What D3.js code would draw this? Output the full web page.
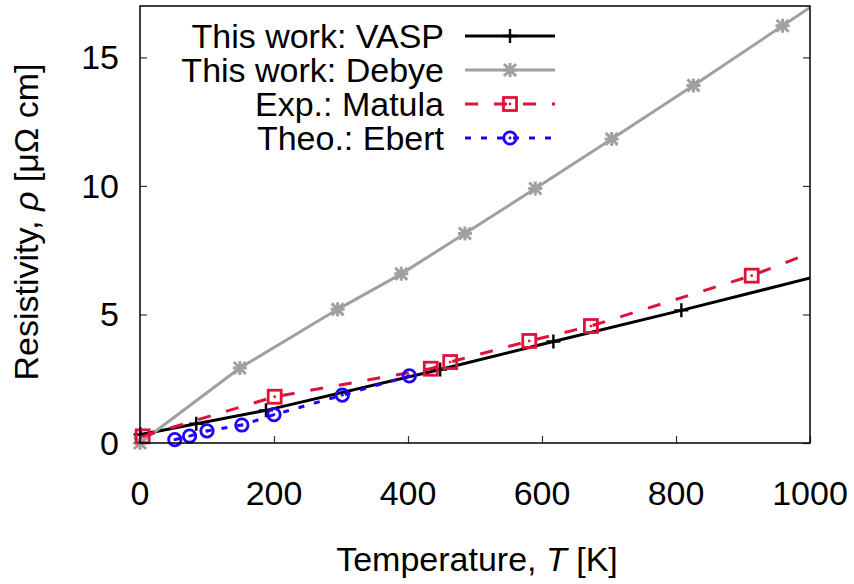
<!DOCTYPE html>
<html>
<head>
<meta charset="utf-8">
<script src="https://cdn.jsdelivr.net/npm/d3@7"></script>
<style>
  body { margin: 0; background: #fff; }
  svg { display: block; }
</style>
</head>
<body>
<div id="chart"></div>
<script>
// Values
const xTicks = [0, 200, 400, 600, 800, 1000];
const yTicks = [0, 5, 10, 15];

// This work: VASP (last point lies past the x range and is clipped)
const vaspT   = [1, 84, 188, 448, 617, 808, 1005];
const vaspRho = [0.33, 0.75, 1.27, 2.86, 3.95, 5.16, 6.45];
// This work: Debye
const debyeT   = [0, 149, 295, 390, 485, 590, 704, 826, 959, 1090];
const debyeRho = [0, 2.92, 5.20, 6.58, 8.15, 9.90, 11.83, 13.91, 16.23, 18.5];
// Exp.: Matula
const matulaT   = [4, 201, 434, 463, 581, 673, 913, 1100];
const matulaRho = [0.26, 1.80, 2.89, 3.15, 3.97, 4.55, 6.51, 8.40];
// Theo.: Ebert
const ebertT   = [52, 74, 100, 152, 200, 302, 402];
const ebertRho = [0.13, 0.27, 0.47, 0.70, 1.10, 1.86, 2.61];

const W = 854, H = 584;
const FONT = '"Liberation Sans", Arial, Helvetica, sans-serif';
const FS = 34;

const M = { left: 140, right: 810, top: 6, bottom: 443 };

const x = d3.scaleLinear().domain([0, 1000]).range([M.left, M.right]);
const y = d3.scaleLinear().domain([0, 17]).range([M.bottom, M.top]);

const svg = d3.select('#chart').append('svg')
  .attr('width', W).attr('height', H)
  .attr('viewBox', `0 0 ${W} ${H}`);

svg.append('rect').attr('width', W).attr('height', H).attr('fill', '#fff');

svg.append('clipPath').attr('id', 'plot-clip')
  .append('rect')
  .attr('x', M.left).attr('y', M.top)
  .attr('width', M.right - M.left).attr('height', M.bottom - M.top);

function stext(g, px, py, anchor) {
  return g.append('text')
    .attr('x', px).attr('y', py)
    .attr('text-anchor', anchor)
    .attr('font-family', FONT)
    .attr('font-size', FS)
    .attr('fill', '#000');
}

// Ticks (inward), y mirrored on the right
const tickCol = '#333';
const xAxis = svg.append('g')
  .attr('transform', `translate(0,${M.bottom})`)
  .call(d3.axisBottom(x).tickValues(xTicks).tickSizeInner(-7).tickSizeOuter(0).tickFormat(''));
const yAxis = svg.append('g')
  .attr('transform', `translate(${M.left},0)`)
  .call(d3.axisLeft(y).tickValues(yTicks).tickSizeInner(-7).tickSizeOuter(0).tickFormat(''));
const yAxisR = svg.append('g')
  .attr('transform', `translate(${M.right},0)`)
  .call(d3.axisRight(y).tickValues(yTicks).tickSizeInner(-7).tickSizeOuter(0).tickFormat(''));
[xAxis, yAxis, yAxisR].forEach(a => {
  a.select('.domain').remove();
  a.selectAll('line').attr('stroke', tickCol).attr('stroke-width', 1.2);
});

// Tick labels
xTicks.forEach(v => stext(svg, x(v), 505, 'middle').text(v));
yTicks.forEach(v => stext(svg, 119, y(v) + 12, 'end').text(v));

// Axis titles
const xt = stext(svg, 477, 571, 'middle');
xt.append('tspan').text('Temperature, ');
xt.append('tspan').attr('font-style', 'italic').text('T');
xt.append('tspan').text(' [K]');

const yt = svg.append('text')
  .attr('transform', 'translate(38,222) rotate(-90)')
  .attr('text-anchor', 'middle')
  .attr('font-family', FONT).attr('font-size', FS).attr('fill', '#000');
yt.append('tspan').text('Resistivity, ');
yt.append('tspan').attr('font-style', 'italic').text('ρ');
yt.append('tspan').text(' [μΩ cm]');

// Series
const series = [
  { name: 'This work: VASP',  T: vaspT,   R: vaspRho,   color: '#000000', dash: null,    mark: 'plus' },
  { name: 'This work: Debye', T: debyeT,  R: debyeRho,  color: '#a0a0a0', dash: null,    mark: 'star' },
  { name: 'Exp.: Matula',     T: matulaT, R: matulaRho, color: '#dc143c', dash: '13,16', mark: 'square' },
  { name: 'Theo.: Ebert',     T: ebertT,  R: ebertRho,  color: '#2000ff', dash: '6,10',  mark: 'circle' },
];

const line = d3.line().x(d => x(d[0])).y(d => y(d[1]));

function drawMark(g, px, py, s) {
  const c = s.color;
  if (s.mark === 'plus') {
    g.append('path').attr('d', `M${px - 7},${py}H${px + 7}M${px},${py - 7}V${py + 7}`)
      .attr('stroke', c).attr('stroke-width', 2.4).attr('fill', 'none');
  } else if (s.mark === 'star') {
    g.append('path')
      .attr('d', `M${px - 7},${py}H${px + 7}M${px},${py - 7}V${py + 7}` +
                 `M${px - 6},${py - 6}L${px + 6},${py + 6}M${px - 6},${py + 6}L${px + 6},${py - 6}`)
      .attr('stroke', c).attr('stroke-width', 3).attr('fill', 'none');
  } else if (s.mark === 'square') {
    g.append('rect').attr('x', px - 6.5).attr('y', py - 6.5).attr('width', 13).attr('height', 13)
      .attr('stroke', c).attr('stroke-width', 2.8).attr('fill', 'none');
    g.append('circle').attr('cx', px).attr('cy', py).attr('r', 1.4).attr('fill', c);
  } else if (s.mark === 'circle') {
    g.append('circle').attr('cx', px).attr('cy', py).attr('r', 6.2)
      .attr('stroke', c).attr('stroke-width', 2.8).attr('fill', 'none');
    g.append('circle').attr('cx', px).attr('cy', py).attr('r', 1.4).attr('fill', c);
  }
}

const plot = svg.append('g');
series.forEach(s => {
  const pts = s.T.map((t, i) => [t, s.R[i]]);
  plot.append('path')
    .datum(pts)
    .attr('clip-path', 'url(#plot-clip)')
    .attr('d', line)
    .attr('fill', 'none')
    .attr('stroke', s.color)
    .attr('stroke-width', 3)
    .attr('stroke-dasharray', s.dash);
  const mg = plot.append('g');
  pts.filter(p => p[0] <= 1000).forEach(p => drawMark(mg, x(p[0]), y(p[1]), s));
});

// Frame
svg.append('rect')
  .attr('x', M.left).attr('y', M.top)
  .attr('width', M.right - M.left).attr('height', M.bottom - M.top)
  .attr('fill', 'none').attr('stroke', '#000').attr('stroke-width', 1.5);

// Legend
const leg = svg.append('g');
series.forEach((s, i) => {
  const cy = 36 + i * 34;
  stext(leg, 444, cy + 12, 'end').text(s.name);
  leg.append('line')
    .attr('x1', 465).attr('x2', 555).attr('y1', cy).attr('y2', cy)
    .attr('stroke', s.color).attr('stroke-width', 3)
    .attr('stroke-dasharray', s.dash);
  drawMark(leg, 510, cy, s);
});
</script>
</body>
</html>
